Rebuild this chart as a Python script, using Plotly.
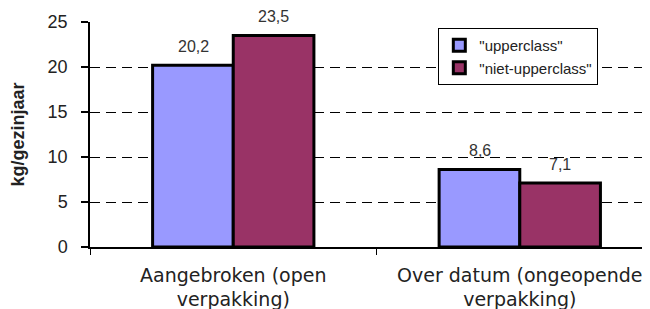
import plotly.graph_objects as go

categories = ["Aangebroken (open<br>verpakking)", "Over datum (ongeopende<br>verpakking)"]
series_names = ['"upperclass"', '"niet-upperclass"']
upperclass = [20.2, 8.6]
niet_upperclass = [23.5, 7.1]
colors = ["#9999FF", "#993366"]
y_ticks = [0, 5, 10, 15, 20, 25]
grid_ticks = [5, 10, 15, 20]

fig = go.Figure()
for name, vals, col in zip(series_names, [upperclass, niet_upperclass], colors):
    fig.add_trace(go.Bar(
        x=categories, y=vals, name=name,
        marker=dict(color=col, line=dict(color="black", width=3)),
    ))

# invisible trace to hold the grid axis
fig.add_trace(go.Scatter(x=categories, y=[None, None], yaxis="y2",
                         showlegend=False, hoverinfo="skip"))

def fmt(v):
    return f"{v:.1f}".replace(".", ",")

for vals, shift in [(upperclass, -40), (niet_upperclass, 40)]:
    for c, v in zip(categories, vals):
        fig.add_annotation(x=c, y=v, xref="x", yref="y", text=fmt(v),
                           showarrow=False, xshift=shift, yshift=19,
                           font=dict(family="Liberation Sans, Arial", size=16, color="#333333"))

fig.update_layout(
    width=650, height=309,
    margin=dict(l=82, r=8, t=14, b=70, autoexpand=False),
    paper_bgcolor="white", plot_bgcolor="white",
    barmode="group", bargap=0.437, bargroupgap=0,
    font=dict(family="Liberation Sans, Arial", color="#222222"),
    showlegend=True,
    legend=dict(x=0.622, y=0.973, xanchor="left", yanchor="top",
                bgcolor="white", bordercolor="black", borderwidth=1,
                font=dict(family="Liberation Sans, Arial", size=15, color="#222222"),
                tracegroupgap=0, itemwidth=30),
    xaxis=dict(range=[-0.5, 1.4545], showline=True, linecolor="black", linewidth=1.5,
               automargin=False,
               ticks="outside", tickson="boundaries", ticklen=6, tickcolor="black",
               ticklabelstandoff=10,
               tickfont=dict(family="DejaVu Sans, Verdana", size=19, color="#222222"),
               showgrid=False, zeroline=False),
    yaxis=dict(range=[0, 25], tickvals=y_ticks, showline=True, linecolor="black", linewidth=1.5,
               automargin=False,
               ticks="outside", ticklen=7, tickcolor="black", tickwidth=1.5,
               ticklabelstandoff=10,
               tickfont=dict(family="Liberation Sans, Arial", size=18, color="#222222"),
               showgrid=False, zeroline=False,
               title=dict(text="<b>kg/gezinjaar</b>", standoff=18,
                          font=dict(family="Liberation Sans, Arial", size=18, color="#222222"))),
    yaxis2=dict(range=[0, 25], overlaying="y", tickvals=grid_ticks, showticklabels=False,
                automargin=False,
                ticks="", showgrid=True, gridcolor="black", gridwidth=1.3, griddash="10px,6px",
                zeroline=False, showline=False),
)

fig.write_html("out.html")
